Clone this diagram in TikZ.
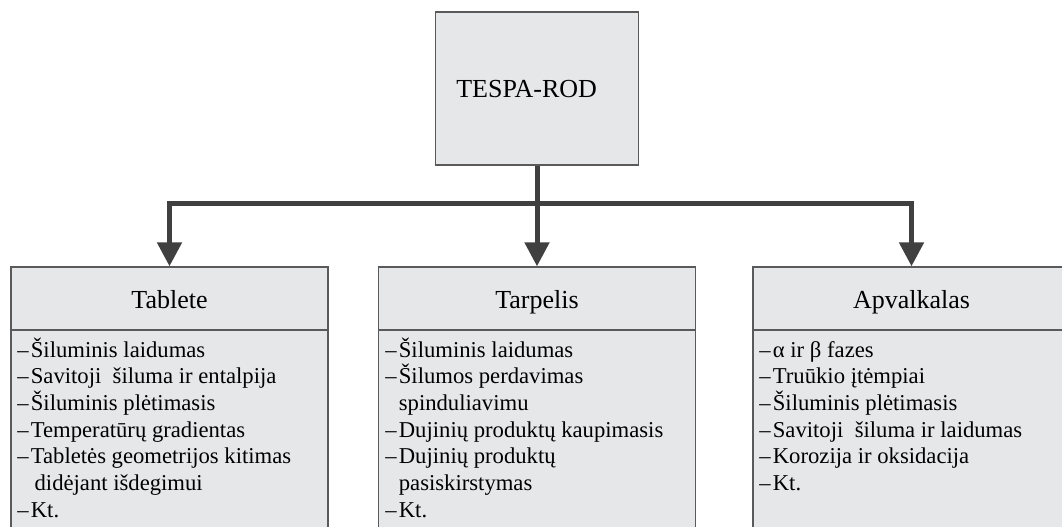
\documentclass[tikz,border=0pt]{standalone}
\usepackage{fontspec}
\setmainfont{Liberation Serif}
\usetikzlibrary{arrows.meta}
\definecolor{boxfill}{HTML}{E6E7E8}
\definecolor{boxline}{HTML}{5A5A5A}
\definecolor{arrowc}{HTML}{404040}
\newcommand\itm[1]{\makebox[0.6em][l]{–}#1}
\newcommand\cnt[1]{\hspace*{0.6em}#1}
\tikzset{
  box/.style={draw=boxline, fill=boxfill, line width=1pt, inner sep=0pt},
  topbox/.style={box, minimum width=152.25pt, minimum height=114.75pt},
  headbox/.style={box, minimum width=237.75pt, minimum height=47.25pt},
  bodybox/.style={box, minimum width=237.75pt, minimum height=172.5pt},
  titletext/.style={font=\fontsize{19.5}{22}\selectfont, inner sep=0pt, anchor=base},
  listtext/.style={font=\fontsize{17}{20}\selectfont, align=left, inner sep=0pt, anchor=north west},
  conn/.style={draw=arrowc, line width=3.75pt, -{Triangle[width=18pt,length=18pt]}}
}
\begin{document}
\begin{tikzpicture}[x=0.75pt,y=-0.75pt]
\useasboundingbox (0,0) rectangle (1062,526);
\clip (0,0) rectangle (1062,526);
\node[topbox] (top) at (537,88.5) {};
\node[titletext, anchor=base west] (toptext) at (456,97) {TESPA-ROD};
% body boxes
\node[bodybox] (b1) at (169.5,445) {};
\node[bodybox] (b2) at (537,445) {};
\node[bodybox] (b3) at (911.5,445) {};
\node[headbox] (h1) at (169.5,298.5) {};
\node[headbox] (h2) at (537,298.5) {};
\node[headbox] (h3) at (911.5,298.5) {};
\node[titletext] (t1) at (169.5,308) {Tablete};
\node[titletext] (t2) at (537,308) {Tarpelis};
\node[titletext] (t3) at (911.5,308) {Apvalkalas};
\node[listtext] (l1) at (17,335.7) {\rule{0pt}{16pt}\itm{Šiluminis laidumas}\\
\itm{Savitoji~ šiluma ir entalpija}\\
\itm{Šiluminis plėtimasis}\\
\itm{Temperatūrų gradientas}\\
\itm{Tabletės geometrijos kitimas}\\
\cnt{\,didėjant išdegimui}\\
\itm{Kt.}};
\node[listtext] (l2) at (385,335.7) {\rule{0pt}{16pt}\itm{Šiluminis laidumas}\\
\itm{Šilumos perdavimas}\\
\cnt{spinduliavimu}\\
\itm{Dujinių produktų kaupimasis}\\
\itm{Dujinių produktų}\\
\cnt{pasiskirstymas}\\
\itm{Kt.}};
\node[listtext] (l3) at (759,335.7) {\rule{0pt}{16pt}\itm{α ir β fazes}\\
\itm{Truūkio įtėmpiai}\\
\itm{Šiluminis plėtimasis}\\
\itm{Savitoji~ šiluma ir laidumas}\\
\itm{Korozija ir oksidacija}\\
\itm{Kt.}};
% connectors
\coordinate (j) at (537,203);
\draw[conn] (top.south) -- (j) -| (h1.north);
\draw[conn] (top.south) -- (j) -| (h3.north);
\draw[conn] (top.south) -- (h2.north);
\end{tikzpicture}
\end{document}
